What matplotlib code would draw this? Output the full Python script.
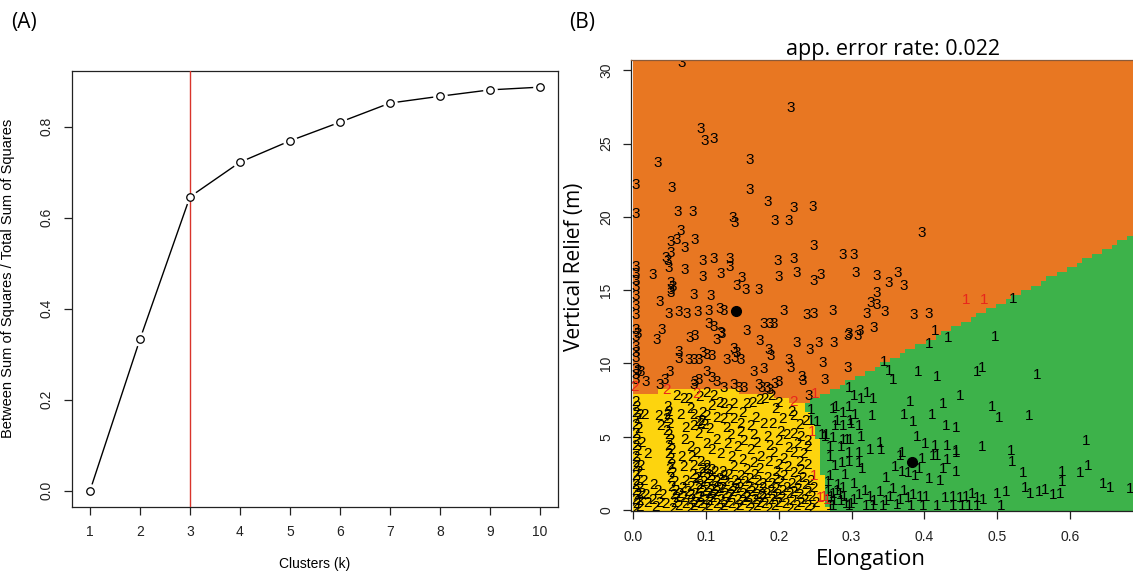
import numpy as np
import matplotlib
matplotlib.use('Agg')
import matplotlib.pyplot as plt
from matplotlib.colors import ListedColormap

# elbow curve: share of variance explained by k clusters
clusters = [1, 2, 3, 4, 5, 6, 7, 8, 9, 10]
ss_ratio = [0.0, 0.333, 0.646, 0.722, 0.769, 0.810, 0.852, 0.867, 0.881, 0.887]
chosen_k = 3

# partition map boundaries (elongation, vertical relief)
yel_top_x = [0.0, 0.04, 0.09, 0.14, 0.19, 0.226, 0.236]
yel_top_y = [7.9, 8.1, 8.25, 8.1, 7.8, 7.3, 7.2]
yel_right_y = [0.0, 1.1, 4.3, 6.0, 7.2]
yel_right_x = [0.268, 0.262, 0.256, 0.245, 0.236]
green_edge_x = [0.234, 0.72]
green_edge_y = [7.2, 19.6]

# class means shown on the map
means_x = [0.141, 0.383]
means_y = [13.6, 3.3]

pts_3 = [
    (0.067, 30.5), (0.217, 27.4), (0.092, 26.0), (0.0975, 25.2), (0.111, 25.3), (0.034, 23.7),
    (0.160, 23.9), (0.003, 22.2), (0.053, 22.0), (0.160, 21.8), (0.003, 20.2), (0.061, 20.3),
    (0.082, 20.3), (0.185, 21.0), (0.220, 20.6), (0.246, 20.7), (0.136, 19.9), (0.139, 19.6),
    (0.194, 19.7), (0.213, 19.7), (0.0655, 19.0), (0.052, 18.3), (0.060, 18.4), (0.070, 17.9),
    (0.085, 18.4), (0.248, 18.0), (0.045, 17.2), (0.047, 17.0), (0.052, 17.5), (0.096, 17.0),
    (0.110, 17.1), (0.132, 17.1), (0.199, 17.0), (0.221, 17.1), (0.288, 17.4), (0.303, 17.4),
    (0.003, 16.6), (0.003, 16.1), (0.027, 16.0), (0.049, 16.5), (0.071, 16.4), (0.096, 15.9),
    (0.1195, 16.1), (0.133, 16.6), (0.149, 15.8), (0.200, 15.9), (0.225, 16.2), (0.248, 15.6),
    (0.257, 16.0), (0.305, 16.2), (0.003, 15.6), (0.003, 15.2), (0.052, 15.5), (0.054, 15.2),
    (0.397, 18.9), (0.335, 15.95), (0.351, 15.5), (0.363, 16.2), (0.371, 15.3),
    (0.052, 15.0), (0.052, 14.8), (0.142, 15.3), (0.154, 15.0), (0.172, 15.0), (0.037, 14.2),
    (0.083, 14.7), (0.106, 14.6), (0.0485, 13.4), (0.062, 13.5), (0.073, 13.4), (0.088, 13.5),
    (0.103, 13.6), (0.119, 13.7), (0.124, 13.6), (0.207, 13.6), (0.238, 13.3), (0.248, 13.4),
    (0.274, 13.6), (0.003, 14.6), (0.003, 13.9), (0.003, 13.3), (0.003, 12.3), (0.003, 11.8),
    (0.006, 12.0), (0.0325, 11.6), (0.039, 12.3), (0.078, 11.7), (0.085, 11.9), (0.104, 12.7),
    (0.110, 12.5), (0.120, 12.1), (0.115, 11.6), (0.121, 12.0), (0.156, 12.2), (0.179, 12.7),
    (0.188, 12.7), (0.193, 12.7), (0.174, 11.5), (0.225, 11.4), (0.243, 10.9), (0.255, 11.4),
    (0.275, 11.4), (0.295, 11.9), (0.308, 11.9), (0.003, 11.1), (0.003, 10.7), (0.003, 10.4),
    (0.062, 10.8), (0.063, 10.3), (0.076, 10.2), (0.083, 10.2), (0.090, 10.2), (0.096, 10.7),
    (0.101, 10.6), (0.108, 10.5), (0.129, 10.2), (0.140, 10.4), (0.147, 10.2), (0.138, 11.0),
    (0.142, 10.7), (0.186, 10.9), (0.189, 10.5), (0.213, 10.2), (0.216, 9.7), (0.260, 10.0),
    (0.295, 9.7), (0.003, 9.6), (0.003, 9.2), (0.003, 8.9), (0.006, 9.5), (0.010, 9.4),
    (0.017, 8.7), (0.050, 9.4), (0.043, 8.9), (0.037, 8.5), (0.101, 9.4), (0.108, 9.0),
    (0.115, 8.7), (0.085, 8.7), (0.083, 8.5), (0.090, 8.9), (0.165, 9.4), (0.179, 9.6),
    (0.172, 8.5), (0.177, 8.3), (0.184, 8.3), (0.188, 8.2), (0.195, 8.6), (0.200, 8.7),
    (0.138, 8.5), (0.145, 8.3), (0.152, 8.3), (0.232, 9.1), (0.233, 8.8), (0.263, 8.9),
    (0.241, 7.8), (0.124, 8.3), (0.335, 14.8), (0.326, 14.1), (0.334, 14.0), (0.346, 13.5),
    (0.321, 13.4), (0.385, 13.3), (0.406, 13.4), (0.330, 12.4), (0.311, 12.2), (0.296, 12.0),
]

pts_1 = [
    (0.522, 14.4), (0.415, 12.2), (0.407, 11.3), (0.433, 11.7), (0.497, 11.8), (0.344, 10.1),
    (0.351, 9.5), (0.357, 8.9), (0.391, 9.4), (0.417, 9.1), (0.472, 9.4), (0.480, 9.7),
    (0.555, 9.2), (0.296, 8.3), (0.304, 7.8), (0.313, 7.6), (0.321, 8.0), (0.329, 7.6),
    (0.380, 7.4), (0.426, 7.2), (0.449, 7.8), (0.275, 6.9), (0.279, 7.0), (0.288, 6.6),
    (0.297, 7.0), (0.305, 6.5), (0.493, 7.0), (0.503, 6.3), (0.328, 6.4), (0.372, 6.5),
    (0.410, 6.5), (0.385, 6.0), (0.544, 6.4), (0.277, 5.7), (0.289, 5.7), (0.300, 5.9),
    (0.310, 5.7), (0.430, 5.7), (0.444, 5.6), (0.289, 4.8), (0.294, 4.8), (0.298, 4.8),
    (0.313, 5.0), (0.259, 5.1), (0.265, 5.1), (0.390, 5.0), (0.401, 4.5), (0.415, 4.4),
    (0.431, 4.4), (0.444, 4.0), (0.479, 4.3), (0.519, 4.0), (0.520, 3.3), (0.622, 4.7),
    (0.271, 4.3), (0.297, 3.9), (0.310, 3.9), (0.325, 4.1), (0.339, 4.6), (0.341, 4.1),
    (0.366, 3.7), (0.369, 3.9), (0.397, 3.5), (0.412, 3.7), (0.417, 3.7), (0.431, 3.4),
    (0.444, 3.9), (0.278, 3.0), (0.296, 3.3), (0.311, 3.2), (0.315, 2.8), (0.360, 2.9),
    (0.369, 2.6), (0.377, 2.5), (0.387, 2.3), (0.393, 2.8), (0.426, 2.8), (0.444, 2.6),
    (0.407, 2.1), (0.422, 2.0), (0.348, 2.2), (0.536, 2.5), (0.589, 2.6), (0.614, 2.5),
    (0.625, 3.0), (0.275, 1.1), (0.284, 1.0), (0.303, 0.7), (0.326, 0.9), (0.339, 1.25),
    (0.353, 0.9), (0.367, 0.7), (0.378, 0.8), (0.385, 1.0), (0.394, 0.9), (0.403, 0.9),
    (0.429, 0.8), (0.439, 0.9), (0.449, 0.8), (0.458, 0.9), (0.465, 1.1), (0.472, 0.8),
    (0.481, 0.7), (0.500, 1.1), (0.513, 1.25), (0.538, 1.5), (0.545, 1.1), (0.557, 1.25),
    (0.566, 1.35), (0.577, 1.0), (0.586, 1.1), (0.589, 1.9), (0.646, 1.8), (0.655, 1.5),
    (0.683, 1.4), (0.275, 0.3), (0.297, 0.3), (0.320, 0.25), (0.329, 0.3), (0.343, 0.25),
    (0.362, 0.35), (0.382, 0.3), (0.398, 0.25), (0.417, 0.25), (0.440, 0.25), (0.452, 0.25),
    (0.461, 0.3), (0.472, 0.3), (0.506, 0.3), (0.245, 6.8), (0.245, 6.1), (0.252, 6.0),
    (0.280, 6.1), (0.298, 6.1), (0.264, 5.0), (0.275, 4.9), (0.285, 4.3), (0.271, 3.6),
    (0.287, 3.2), (0.271, 2.3), (0.291, 2.4), (0.303, 1.8), (0.268, 1.2), (0.272, 0.9),
    (0.276, 0.6), (0.270, 0.3), (0.280, 1.3), (0.285, 0.6), (0.290, 0.9), (0.293, 0.4),
    (0.282, 1.7), (0.268, 1.9), (0.288, 1.5), (0.300, 0.4), (0.310, 1.0), (0.318, 1.3),
    (0.331, 0.6), (0.347, 0.6), (0.357, 1.4), (0.372, 1.3),
]

pts_2 = [
    # scattered upper part of the yellow zone
    (0.009, 6.5), (0.016, 6.5), (0.020, 3.8), (0.035, 6.4), (0.047, 6.5), (0.065, 6.5),
    (0.083, 6.5), (0.095, 6.6), (0.101, 6.4), (0.059, 7.8), (0.069, 7.6), (0.076, 7.6),
    (0.091, 7.7), (0.101, 8.0), (0.110, 7.8), (0.118, 7.3), (0.124, 7.2), (0.138, 7.2),
    (0.156, 7.2), (0.164, 7.3), (0.174, 7.5), (0.181, 7.6), (0.190, 7.8), (0.037, 5.7),
    (0.046, 5.4), (0.083, 5.7), (0.092, 5.9), (0.090, 5.2), (0.115, 6.3), (0.124, 6.2),
    (0.138, 6.2), (0.147, 5.9), (0.161, 5.7), (0.179, 5.9), (0.191, 5.9), (0.218, 6.7),
    (0.220, 6.4), (0.147, 5.3), (0.165, 5.1), (0.184, 5.0), (0.202, 5.3), (0.211, 5.1),
    (0.220, 5.2), (0.230, 5.0), (0.239, 4.7), (0.240, 4.3), (0.071, 4.8), (0.078, 4.3),
    (0.087, 3.9), (0.101, 4.5), (0.115, 4.8), (0.129, 4.5), (0.143, 4.3), (0.161, 4.1),
    (0.175, 3.6), (0.193, 3.9), (0.207, 3.5), (0.220, 3.9), (0.229, 3.3), (0.069, 2.9),
    (0.083, 3.0), (0.101, 2.8), (0.122, 2.6), (0.138, 2.9), (0.156, 2.7), (0.174, 2.8),
    (0.197, 2.6), (0.220, 2.5), (0.243, 2.0), (0.239, 3.1), (0.033, 1.3), (0.026, 0.7),
    (0.009, 0.2), (0.014, 2.0), (0.094, 6.1), (0.098, 5.8), (0.088, 6.0), (0.105, 5.5),
    (0.128, 5.6), (0.134, 5.1), (0.152, 4.7), (0.170, 4.6), (0.187, 4.4), (0.199, 4.7),
    (0.213, 4.2), (0.225, 4.5), (0.234, 3.8), (0.108, 4.1), (0.120, 3.8), (0.135, 3.6),
    (0.150, 3.4), (0.165, 3.2), (0.186, 3.3), (0.200, 3.1), (0.212, 2.9), (0.230, 2.7),
    (0.080, 3.6), (0.093, 3.3), (0.066, 3.6), (0.072, 5.6), (0.079, 6.9), (0.108, 7.1),
    (0.131, 6.8), (0.150, 6.6), (0.168, 6.3), (0.196, 6.9), (0.205, 6.2), (0.228, 5.8),
    (0.237, 6.1), (0.200, 7.3),
    # column along zero elongation
    (0.003, 7.4), (0.005, 7.0), (0.003, 6.6), (0.006, 6.2), (0.003, 5.8), (0.007, 5.5),
    (0.003, 5.2), (0.005, 4.8), (0.003, 4.4), (0.006, 4.0), (0.003, 3.6), (0.005, 3.2),
    (0.003, 2.9), (0.007, 2.6), (0.003, 2.3), (0.005, 2.0), (0.003, 1.7), (0.008, 1.5),
    (0.003, 1.3), (0.006, 1.0), (0.003, 0.7), (0.009, 0.6), (0.004, 0.4), (0.003, 0.1),
    (0.012, 1.1), (0.010, 3.0), (0.011, 4.6),
    # column near 0.05
    (0.047, 7.0), (0.049, 6.7), (0.046, 6.2), (0.050, 5.9), (0.048, 5.1), (0.051, 4.8),
    (0.049, 4.4), (0.052, 4.1), (0.048, 3.8), (0.051, 3.5), (0.053, 3.1), (0.050, 2.8),
    (0.054, 2.5), (0.051, 2.2), (0.056, 1.9), (0.053, 1.6), (0.058, 1.3), (0.055, 1.0),
    (0.060, 0.8), (0.057, 0.5), (0.062, 0.3), (0.054, 0.1), (0.064, 1.1), (0.044, 0.4),
    (0.040, 1.0), (0.036, 0.5), (0.030, 0.2), (0.020, 0.5), (0.017, 1.0), (0.028, 1.7),
    # dense low-relief band
    (0.082, 2.4), (0.094, 2.5), (0.105, 2.3), (0.112, 2.6), (0.131, 2.4), (0.148, 2.3),
    (0.166, 2.4), (0.185, 2.2), (0.207, 2.3), (0.232, 2.2),
    (0.072, 2.0), (0.086, 2.1), (0.097, 1.9), (0.108, 2.0), (0.119, 2.1), (0.127, 1.9),
    (0.139, 2.0), (0.153, 1.9), (0.171, 2.0), (0.190, 1.8), (0.202, 1.9), (0.218, 1.8),
    (0.236, 1.7), (0.248, 1.5),
    (0.068, 1.5), (0.079, 1.6), (0.091, 1.7), (0.100, 1.5), (0.111, 1.6), (0.122, 1.5),
    (0.133, 1.6), (0.146, 1.5), (0.158, 1.6), (0.177, 1.5), (0.195, 1.4), (0.211, 1.5),
    (0.226, 1.4), (0.240, 1.2),
    (0.074, 1.2), (0.084, 1.1), (0.095, 1.2), (0.104, 1.1), (0.115, 1.2), (0.126, 1.1),
    (0.137, 1.2), (0.150, 1.1), (0.162, 1.2), (0.170, 1.0), (0.183, 1.1), (0.198, 1.0),
    (0.214, 1.1), (0.229, 1.0), (0.245, 0.9),
    (0.069, 0.8), (0.080, 0.7), (0.089, 0.8), (0.099, 0.7), (0.109, 0.8), (0.120, 0.7),
    (0.131, 0.8), (0.143, 0.7), (0.155, 0.8), (0.166, 0.7), (0.178, 0.8), (0.190, 0.7),
    (0.204, 0.8), (0.219, 0.6), (0.235, 0.7), (0.250, 0.5),
    (0.072, 0.4), (0.083, 0.3), (0.093, 0.4), (0.103, 0.3), (0.114, 0.4), (0.124, 0.3),
    (0.135, 0.4), (0.146, 0.3), (0.158, 0.4), (0.169, 0.3), (0.181, 0.4), (0.194, 0.3),
    (0.209, 0.4), (0.224, 0.3), (0.240, 0.3),
    (0.077, 0.1), (0.097, 0.1), (0.118, 0.1), (0.140, 0.1), (0.161, 0.1), (0.186, 0.1),
    (0.215, 0.1), (0.245, 0.1),
    (0.088, 2.2), (0.101, 2.1), (0.115, 1.9), (0.124, 2.3), (0.143, 1.8), (0.160, 2.1),
    (0.178, 1.8), (0.196, 2.1), (0.225, 2.0), (0.090, 1.4), (0.106, 1.3), (0.118, 1.4),
    (0.141, 1.4), (0.167, 1.4), (0.188, 1.3), (0.205, 1.3), (0.220, 1.2), (0.078, 1.0),
    (0.093, 0.9), (0.112, 1.0), (0.133, 1.0), (0.156, 0.9), (0.176, 1.0), (0.193, 0.9),
    (0.086, 0.5), (0.105, 0.6), (0.127, 0.5), (0.150, 0.6), (0.173, 0.5), (0.200, 0.5),
    (0.230, 0.5), (0.100, 3.0), (0.107, 2.7), (0.095, 2.8),
]

# points that fall outside their own cluster's zone (drawn red)
miss_1 = [(0.458, 14.3), (0.482, 14.3), (0.250, 7.9), (0.246, 5.3), (0.248, 2.3),
          (0.257, 0.8), (0.262, 0.9), (0.266, 0.7)]
miss_2 = [(0.220, 7.4), (0.045, 8.2), (0.002, 8.4), (0.087, 7.9)]

c_green = '#3DB24A'
c_yellow = '#FDD40E'
c_orange = '#E87722'
sans = ['Liberation Sans', 'DejaVu Sans']
myriad = ['Open Sans', 'DejaVu Sans']

fig = plt.figure(figsize=(11.33, 5.79), dpi=100)

# ---- (A) elbow plot
axA = fig.add_axes([0.0635, 0.1244, 0.429, 0.753])
axA.plot(clusters, ss_ratio, color='black', lw=1.0, zorder=2)
axA.plot(clusters, ss_ratio, 'o', ms=9.5, color='white', zorder=3)
axA.axvline(chosen_k, color='#D9342B', lw=1.0, zorder=3.5)
axA.plot(clusters, ss_ratio, 'o', ms=5.4, mfc='white', mec='black', mew=0.9, zorder=4)
axA.set_xlim(0.64, 10.36)
axA.set_ylim(-0.0355, 0.9225)
axA.set_xticks(clusters)
axA.set_yticks([0.0, 0.2, 0.4, 0.6, 0.8])
axA.set_yticklabels(['0.0', '0.2', '0.4', '0.6', '0.8'], rotation=90, va='center')
axA.tick_params(direction='out', length=6, width=0.9, pad=7, labelsize=10, colors='#222222')
for lab in axA.get_xticklabels() + axA.get_yticklabels():
    lab.set_family(sans)
for sp in axA.spines.values():
    sp.set_linewidth(0.9)
    sp.set_color('#222222')
axA.set_xlabel('Clusters (k)', fontsize=10, family=sans, labelpad=13)
axA.set_ylabel('Between Sum of Squares / Total Sum of Squares', fontsize=10.5, family=sans)
axA.yaxis.set_label_coords(-0.118, 0.525)
fig.text(0.010, 0.962, '(A)', fontsize=15, family=myriad, va='center')

# ---- (B) partition map
axB = fig.add_axes([0.557, 0.1174, 0.4625, 0.779])
x_edges = np.linspace(0.0, 0.72, 105)
y_edges = np.linspace(-0.07, 30.7, 101)
xc = (x_edges[:-1] + x_edges[1:]) / 2
yc = (y_edges[:-1] + y_edges[1:]) / 2
XX, YY = np.meshgrid(xc, yc)
zone = np.full(XX.shape, 2)
green = (XX >= green_edge_x[0]) & (YY < np.interp(XX, green_edge_x, green_edge_y))
zone[green] = 0
yellow = (YY < np.interp(XX, yel_top_x, yel_top_y)) & (XX < np.interp(YY, yel_right_y, yel_right_x))
zone[yellow] = 1
axB.pcolormesh(x_edges, y_edges, zone, cmap=ListedColormap([c_green, c_yellow, c_orange]),
               vmin=-0.5, vmax=2.5, shading='flat', zorder=0)

for label, pts, col in [('3', pts_3, 'black'), ('1', pts_1, 'black'), ('2', pts_2, 'black'),
                        ('1', miss_1, '#E8261C'), ('2', miss_2, '#E8261C')]:
    for px, py in pts:
        axB.text(px, py, label, color=col, fontsize=11, family=sans,
                 ha='center', va='center', clip_on=True, zorder=2)

axB.plot(means_x, means_y, 'o', color='black', ms=7, zorder=3)

axB.set_xlim(-0.003, 0.717)
axB.set_ylim(-0.07, 30.7)
axB.set_xticks([0.0, 0.1, 0.2, 0.3, 0.4, 0.5, 0.6])
axB.set_yticks([0, 5, 10, 15, 20, 25, 30])
axB.set_yticklabels(['0', '5', '10', '15', '20', '25', '30'], rotation=90, va='center')
axB.tick_params(direction='out', length=6, width=0.9, labelsize=10, colors='#222222')
axB.tick_params(axis='x', pad=8)
axB.tick_params(axis='y', pad=7)
for lab in axB.get_xticklabels() + axB.get_yticklabels():
    lab.set_family(sans)
for sp in axB.spines.values():
    sp.set_linewidth(0.9)
    sp.set_color('#222222')
axB.spines['top'].set_color('#8a5a3a')
axB.set_title('app. error rate: 0.022', fontsize=15.5, family=myriad, pad=3)
axB.set_xlabel('Elongation', fontsize=16, family=myriad, labelpad=2)
axB.xaxis.set_label_coords(0.458, -0.085)
axB.set_ylabel('Vertical Relief (m)', fontsize=15, family=myriad, labelpad=8)
axB.yaxis.set_label_coords(-0.088, 0.541)
fig.text(0.502, 0.962, '(B)', fontsize=15, family=myriad, va='center')

fig.savefig('out.png', dpi=100)
